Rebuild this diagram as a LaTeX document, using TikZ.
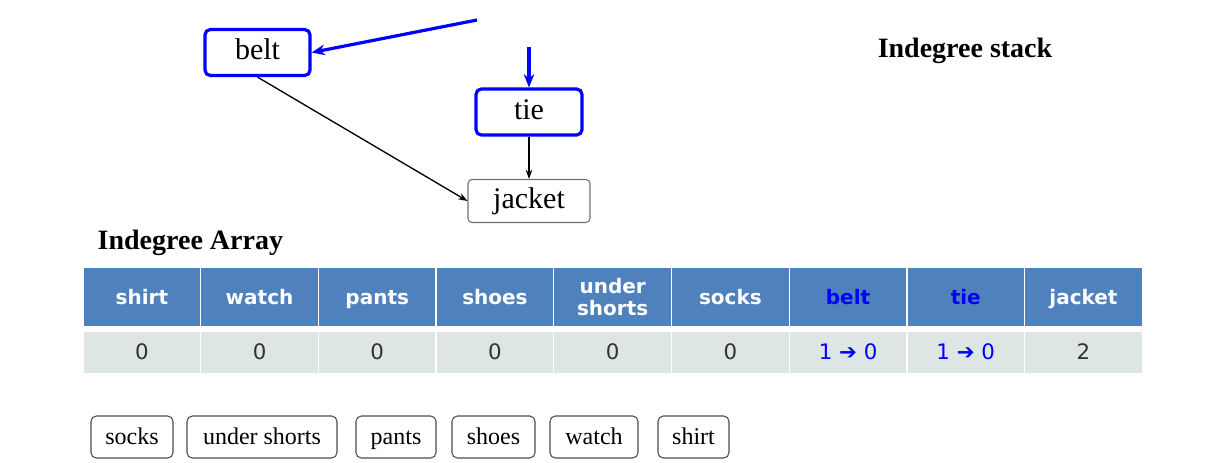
\documentclass[tikz,border=0pt]{standalone}
\usepackage{fontspec}
\setmainfont{Liberation Serif}
\setsansfont{DejaVu Sans}
\usetikzlibrary{arrows.meta}
\definecolor{hdr}{RGB}{79,129,189}
\definecolor{valrow}{RGB}{221,230,228}
\definecolor{hiblue}{RGB}{0,0,255}
\definecolor{valtxt}{RGB}{51,51,51}
\begin{document}
\begin{tikzpicture}[x=0.75pt,y=-0.75pt,
  gnode/.style={draw=black!55, line width=0.8pt, rounded corners=3pt, fill=white, inner sep=0pt, font=\fontsize{22.5}{26}\selectfont, text height=15.3pt, text depth=4.5pt},
  hinode/.style={draw=hiblue, line width=2.4pt, rounded corners=4pt, fill=white, inner sep=0pt, font=\fontsize{22.5}{26}\selectfont, text height=15.3pt, text depth=4.5pt},
  blk/.style={-{Stealth[length=7pt,width=5pt]}, line width=1pt, black},
  blu/.style={-{Stealth[length=10pt,width=8pt]}, line width=2.4pt, hiblue},
  hcell/.style={fill=hdr, draw=white, line width=1pt, minimum width=117.7*0.75pt, minimum height=60*0.75pt, inner sep=0pt, text=white, font=\sffamily\bfseries\fontsize{15}{16.5}\selectfont, align=center},
  hone/.style={hcell, text height=12.9pt, text depth=2pt},
  vcell/.style={fill=valrow, draw=white, line width=1pt, minimum width=117.7*0.75pt, minimum height=43*0.75pt, inner sep=0pt, text=valtxt, font=\sffamily\fontsize{16}{18}\selectfont, text height=11.7pt, text depth=1pt},
  stk/.style={draw=black!70, line width=0.8pt, rounded corners=4pt, inner sep=0pt, minimum height=42*0.75pt, font=\fontsize{18}{20}\selectfont, text height=13.2pt, text depth=1.8pt},
  ttl/.style={font=\bfseries\fontsize{21}{24}\selectfont}
]
\useasboundingbox (0,0) rectangle (1216,462);
% graph
\node[hinode, minimum width=105*0.75pt, minimum height=46*0.75pt] (belt) at (257.5,52.5) {belt};
\node[hinode, minimum width=106*0.75pt, minimum height=46*0.75pt] (tie) at (529,112) {tie};
\node[gnode, minimum width=122*0.75pt, minimum height=43*0.75pt] (jacket) at (529,201) {jacket};
\coordinate (s1) at (477,20);
\coordinate (s2) at (529,47);
\draw[blu] (s1) -- (belt.east);
\draw[blu] (s2) -- (tie.north);
\draw[blk] (belt.south) -- (jacket.west);
\draw[blk] (tie.south) -- (jacket.north);
% titles
\node[ttl] (stktitle) at (965,51) {Indegree stack};
\node[ttl, anchor=west] (arrtitle) at (93,243) {Indegree Array};
% table
\foreach \i/\h/\c in {0/shirt/white,1/watch/white,2/pants/white,3/shoes/white,5/socks/white,6/belt/hiblue,7/tie/hiblue,8/jacket/white}{
  \node[hone, text=\c] (h\i) at ({83+117.7*\i+58.85},297) {\h};
}
\node[hcell] (h4) at ({83+117.7*4+58.85},297) {under\\shorts};
\foreach \i/\v in {0/0,1/0,2/0,3/0,4/0,5/0,8/2}{
  \node[vcell] (v\i) at ({83+117.7*\i+58.85},352.5) {\v};
}
\node[vcell, text=hiblue] (v6) at ({83+117.7*6+58.85},352.5) {1 ➔ 0};
\node[vcell, text=hiblue] (v7) at ({83+117.7*7+58.85},352.5) {1 ➔ 0};
% stack
\node[stk, minimum width=82*0.75pt] (k1) at (132,437) {socks};
\node[stk, minimum width=150*0.75pt] (k2) at (262,437) {under shorts};
\node[stk, minimum width=80*0.75pt] (k3) at (396,437) {pants};
\node[stk, minimum width=83*0.75pt] (k4) at (493.5,437) {shoes};
\node[stk, minimum width=88*0.75pt] (k5) at (594,437) {watch};
\node[stk, minimum width=71*0.75pt] (k6) at (693.5,437) {shirt};
\end{tikzpicture}
\end{document}
